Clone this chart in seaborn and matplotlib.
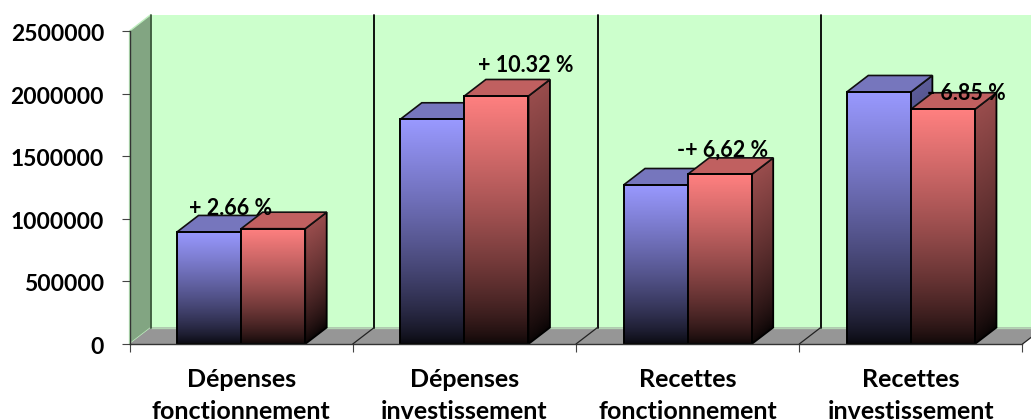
import numpy as np
import pandas as pd
import matplotlib
matplotlib.use('Agg')
import matplotlib.pyplot as plt
import seaborn as sns
from matplotlib.patches import Polygon
from matplotlib.transforms import ScaledTranslation

# valeurs
categories = ['Dépenses\nfonctionnement', 'Dépenses\ninvestissement',
              'Recettes\nfonctionnement', 'Recettes\ninvestissement']
series_a = [895000, 1795000, 1270000, 2013000]
series_b = [921000, 1981000, 1355000, 1875000]
y_ticks = [0, 500000, 1000000, 1500000, 2000000, 2500000]
pct_labels = ['+ 2.66 %', '+ 10.32 %', '-+ 6,62 %', '- 6.85 %']

data = pd.DataFrame({
    'categorie': categories * 2,
    'valeur': series_a + series_b,
    'serie': ['a'] * 4 + ['b'] * 4,
})

sns.set_theme(style='white')
plt.rcParams['font.family'] = ['Lato', 'DejaVu Sans']

W, H = 1031, 419
fig = plt.figure(figsize=(W / 100, H / 100), dpi=100, facecolor='white')
# zone de tracé (plan avant) en pixels
left, right, top, bottom = 129.5, 1022.5, 31, 344
ax = fig.add_axes([left / W, (H - bottom) / H, (right - left) / W, (bottom - top) / H])
ax.patch.set_alpha(0)

sns.barplot(data=data, x='categorie', y='valeur', hue='serie', width=0.574, gap=0,
            legend=False, ax=ax, palette={'a': '#9999FF', 'b': '#FF8080'})
ax.set_xlim(-0.5, 3.5)
ax.set_ylim(0, 2500000)

# profondeur 3D en unités de données
dx = 21.5 / ((right - left) / 4)
dy = 16.5 * 2500000 / (bottom - top)
x0, x1 = -0.5, 3.5
y1 = 2500000


def gradient(rgb, nx, f=0.0):
    # dégradé vertical, clair en haut, presque noir en bas
    # f = décalage de la face latérale rapporté à la hauteur de la barre
    col = np.array(matplotlib.colors.to_rgb(rgb))
    low = col * 0.06
    yy = np.linspace(1, 0, 128)[:, None]
    xx = np.linspace(0, 1, nx)[None, :]
    t = np.clip(yy * (1 + f) - xx * f, 0, 1)[:, :, None]
    t = t ** 0.78
    return low + (col - low) * t


# parois
ax.add_patch(Polygon([(x0 + dx, dy), (x1 + dx + 1, dy), (x1 + dx + 1, y1 + dy), (x0 + dx, y1 + dy)],
                     facecolor='#CCFFCC', edgecolor='none', clip_on=False, zorder=0.1))
ax.add_patch(Polygon([(x0, 0), (x0 + dx, dy), (x0 + dx, y1 + dy), (x0, y1)],
                     facecolor='#82A582', edgecolor='#BFEFBF', lw=1, clip_on=False, zorder=0.2))
ax.plot([x0 + dx, x0 + dx], [dy, y1 + dy], color='#2F4A2F', lw=1.2, clip_on=False, zorder=0.3)
ax.add_patch(Polygon([(x0, 0), (x0 + dx, dy), (x1 + dx, dy), (x1, 0)],
                     facecolor='#969696', edgecolor='none', clip_on=False, zorder=0.2))
ax.plot([x0 + dx, x1 + dx], [dy, dy], color='#B4D2B4', lw=1, clip_on=False, zorder=0.25)

# séparateurs de catégories
for b in [0.5, 1.5, 2.5]:
    ax.plot([b + dx, b + dx], [dy, y1 + dy], color='black', lw=1.3, clip_on=False, zorder=0.3)
for b in [0.5, 1.5, 2.5, 3.5]:
    ax.plot([b, b + dx], [0, dy], color='#222222', lw=0.9, clip_on=False, zorder=0.3)

# faces 3D autour des barres de seaborn
z = 1.0
for i in range(len(categories)):
    for container, base, top_col in zip(ax.containers, ['#9999FF', '#FF8080'], ['#7676BD', '#C06060']):
        bar = container[i]
        x, w, h = bar.get_x(), bar.get_width(), bar.get_height()

        side = Polygon([(x + w, 0), (x + w + dx, dy), (x + w + dx, h + dy), (x + w, h)],
                       facecolor='none', edgecolor='black', lw=1.3, clip_on=False, zorder=z + 0.2)
        ax.add_patch(side)
        side_col = np.array(matplotlib.colors.to_rgb(base)) * 0.6
        im = ax.imshow(gradient(side_col, 16, f=dy / h), extent=(x + w, x + w + dx, 0, h + dy),
                       aspect='auto', zorder=z + 0.1, interpolation='bilinear')
        im.set_clip_path(side)

        ax.add_patch(Polygon([(x, h), (x + dx, h + dy), (x + w + dx, h + dy), (x + w, h)],
                             facecolor=top_col, edgecolor='#111111', lw=1.2, clip_on=False, zorder=z + 0.3))

        ax.imshow(gradient(base, 2), extent=(x, x + w, 0, h), aspect='auto', zorder=z + 0.4,
                  interpolation='bilinear')
        bar.set_facecolor('none')
        bar.set_edgecolor('black')
        bar.set_linewidth(1.4)
        bar.set_zorder(z + 0.5)
        z += 1

ax.set_xlim(-0.5, 3.5)
ax.set_ylim(0, 2500000)

# étiquettes de pourcentage
offsets = [(-42.5, 20.5), (29.5, 30), (3, 24), (23, 16)]
red_bars = ax.containers[1]
for bar, txt, off in zip(red_bars, pct_labels, offsets):
    ax.annotate(txt, (bar.get_x() + bar.get_width() / 2, bar.get_height()), xytext=off,
                textcoords='offset pixels', ha='center', va='center', fontsize=15.5,
                fontweight='bold', color='black', zorder=100, annotation_clip=False)

# axes
ax.set_xlabel('')
ax.set_ylabel('')
sns.despine(ax=ax, top=True, right=True)
for s in ['left', 'bottom']:
    ax.spines[s].set_color('#333333')
    ax.spines[s].set_linewidth(1)
    ax.spines[s].set_zorder(50)
ax.set_yticks(y_ticks)
ax.set_yticklabels([str(v) for v in y_ticks], fontsize=16.5, fontweight='bold', color='black')
ax.tick_params(axis='y', left=True, length=5.8, width=0.8, color='#444444', pad=12.5)
shift_down = ScaledTranslation(0, -1.5 / 100, fig.dpi_scale_trans)
for lbl in ax.get_yticklabels():
    lbl.set_transform(lbl.get_transform() + shift_down)
ax.set_xticks(range(len(categories)))
ax.set_xticklabels(categories, fontsize=18, fontweight='bold', color='black', linespacing=1.47)
ax.set_xticks([-0.5, 0.5, 1.5, 2.5, 3.5], minor=True)
ax.tick_params(axis='x', which='major', bottom=False, pad=11)
ax.tick_params(axis='x', which='minor', bottom=True, length=5.8, width=0.8, color='#444444')

fig.savefig('out.png', dpi=100)
